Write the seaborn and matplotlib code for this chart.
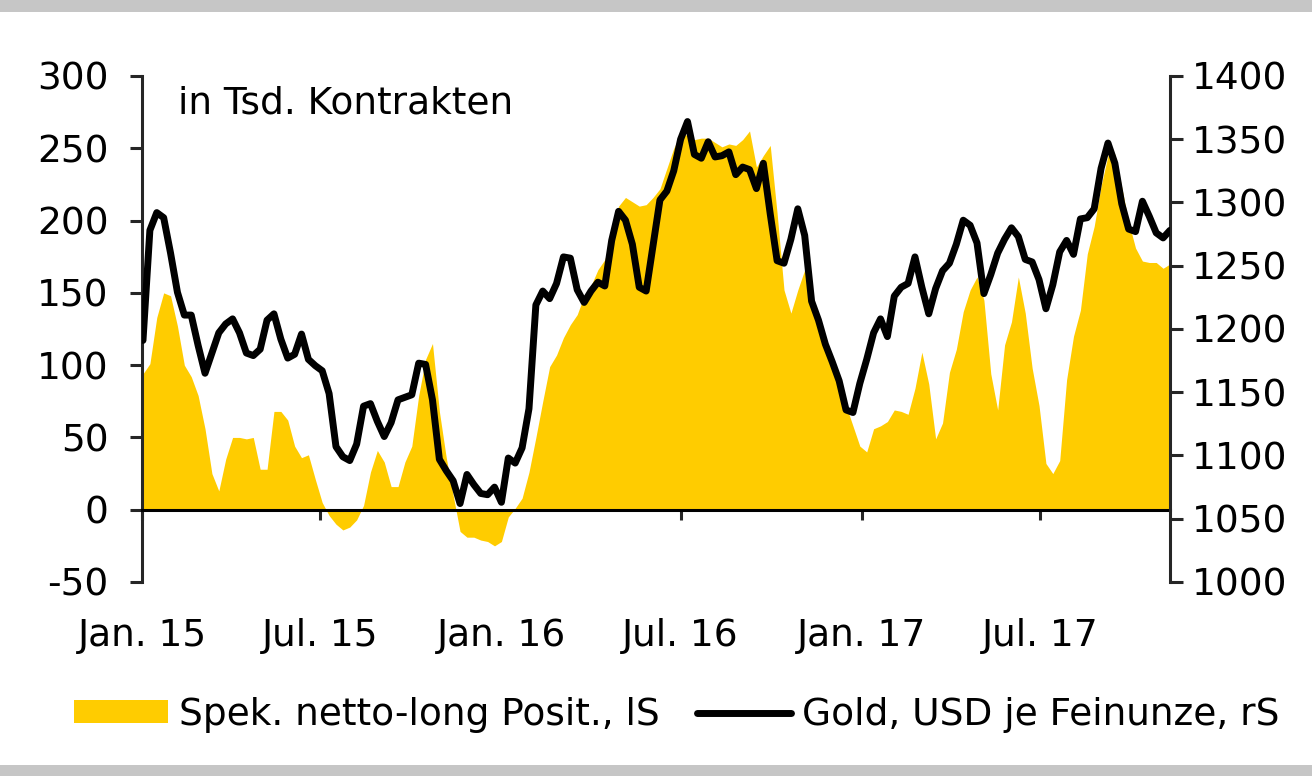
import numpy as np
import pandas as pd
import matplotlib
matplotlib.use("Agg")
import matplotlib.pyplot as plt
from matplotlib.patches import Patch, Rectangle
from matplotlib.lines import Line2D
import seaborn as sns

# ---- data (weekly) ----
start_date = "2015-01-02"
n_weeks = 150

net_long = [94, 101, 133, 150, 148, 127, 100, 92, 79, 56,
            25, 13, 35, 50, 50, 49, 50, 28, 28, 68,
            68, 62, 44, 36, 38, 21, 5, -4, -10, -14,
            -12, -7, 3, 26, 41, 33, 16, 16, 33, 44,
            79, 104, 115, 68, 36, 10, -15, -19, -19, -21,
            -22, -25, -22, -5, 1, 8, 26, 50, 75, 99,
            107, 119, 128, 135, 148, 155, 166, 173, 190, 210,
            216, 213, 210, 211, 216, 222, 236, 250, 260, 259,
            256, 257, 257, 254, 251, 253, 252, 256, 262, 237,
            245, 252, 205, 152, 136, 152, 166, 144, 130, 117,
            102, 88, 72, 58, 44, 40, 56, 58, 61, 69,
            68, 66, 84, 109, 87, 49, 60, 95, 111, 137,
            152, 161, 145, 94, 69, 114, 130, 161, 136, 98,
            72, 32, 25, 34, 90, 120, 138, 177, 196, 224,
            245, 246, 223, 199, 181, 172, 171, 171, 167, 170]

gold = [1191, 1278, 1292, 1288, 1260, 1229, 1211, 1211, 1187, 1165,
        1181, 1197, 1204, 1208, 1197, 1181, 1179, 1184, 1207, 1212,
        1192, 1177, 1180, 1196, 1176, 1171, 1167, 1149, 1107, 1099,
        1096, 1109, 1139, 1141, 1127, 1115, 1126, 1144, 1146, 1148,
        1173, 1172, 1144, 1097, 1088, 1080, 1062, 1085, 1077, 1070,
        1069, 1075, 1063, 1098, 1094, 1106, 1137, 1219, 1230, 1224,
        1236, 1257, 1256, 1231, 1221, 1230, 1237, 1234, 1270, 1293,
        1286, 1267, 1233, 1230, 1266, 1302, 1309, 1325, 1350, 1364,
        1338, 1335, 1348, 1336, 1337, 1340, 1322, 1328, 1326, 1311,
        1331, 1291, 1254, 1252, 1271, 1295, 1274, 1222, 1207, 1188,
        1174, 1159, 1136, 1134, 1157, 1176, 1197, 1208, 1194, 1226,
        1233, 1236, 1257, 1233, 1212, 1232, 1246, 1252, 1267, 1286,
        1282, 1268, 1228, 1243, 1260, 1271, 1280, 1273, 1255, 1253,
        1239, 1216, 1235, 1261, 1270, 1259, 1287, 1288, 1295, 1327,
        1347, 1331, 1299, 1279, 1277, 1301, 1289, 1276, 1272, 1278]

tick_dates = ["2015-01-01", "2015-07-01", "2016-01-01",
              "2016-07-01", "2017-01-01", "2017-07-01"]
tick_labels = ["Jan. 15", "Jul. 15", "Jan. 16", "Jul. 16", "Jan. 17", "Jul. 17"]
left_ticks = [-50, 0, 50, 100, 150, 200, 250, 300]
right_ticks = [1000, 1050, 1100, 1150, 1200, 1250, 1300, 1350, 1400]

label_area = "Spek. netto-long Posit., lS"
label_line = "Gold, USD je Feinunze, rS"
unit_text = "in Tsd. Kontrakten"

# ---- style ----
sns.set_theme(style="white")
plt.rcParams["font.family"] = ["DejaVu Sans"]
plt.rcParams["text.color"] = "black"
plt.rcParams["xtick.color"] = "black"
plt.rcParams["ytick.color"] = "black"
plt.rcParams["axes.labelcolor"] = "black"
FS = 27
YELLOW = "#FFCC00"
SPINE = "#262626"
LW = 5.0

dates = pd.date_range(start_date, periods=n_weeks, freq="7D")
df = pd.DataFrame({"date": dates, "net_long": net_long, "gold": gold})

fig = plt.figure(figsize=(13.12, 7.76), dpi=100)
ax = fig.add_axes([142 / 1312, 1 - 582 / 776, (1170 - 142) / 1312, (582 - 76) / 776])
ax.set_facecolor("none")

ax.fill_between(df["date"], 0, df["net_long"], color=YELLOW, linewidth=0, zorder=1)
ax.set_ylim(-50, 300)
ax.set_xlim(pd.Timestamp("2015-01-01"), df["date"].iloc[-1])
ax.set_yticks(left_ticks)
ax.set_yticklabels([str(v) for v in left_ticks], fontsize=FS, color="black")

ax2 = ax.twinx()
sns.lineplot(data=df, x="date", y="gold", ax=ax2, color="black",
             linewidth=LW, legend=False, zorder=3)
ax2.set_ylim(1000, 1400)
ax2.set_yticks(right_ticks)
ax2.set_yticklabels([str(v) for v in right_ticks], fontsize=FS, color="black")
ax2.set_xlim(ax.get_xlim())
ax2.set_xlabel("")
ax2.set_ylabel("")
ax.set_xlabel("")
ax.set_ylabel("")

# spines
for a in (ax, ax2):
    a.spines["top"].set_visible(False)
    a.grid(False)
ax.spines["right"].set_visible(False)
ax2.spines["left"].set_visible(False)
ax2.spines["bottom"].set_visible(False)
ax.spines["left"].set_color(SPINE)
ax.spines["left"].set_linewidth(2.2)
ax2.spines["right"].set_color(SPINE)
ax2.spines["right"].set_linewidth(2.2)
ax.spines["bottom"].set_position(("data", 0))
ax.spines["bottom"].set_color("black")
ax.spines["bottom"].set_linewidth(2.2)
ax.spines["bottom"].set_zorder(2.5)

ax.set_xticks(pd.to_datetime(tick_dates))
ax.set_xticklabels(tick_labels, fontsize=FS, color="black")
ax.tick_params(axis="x", direction="out", length=7, width=2.2, color=SPINE,
               pad=71, bottom=True)
ax.tick_params(axis="y", direction="out", length=9, width=2.2, color=SPINE,
               pad=15, left=True)
ax2.tick_params(axis="y", direction="out", length=9, width=2.2, color=SPINE,
                pad=7, right=True)
ax2.tick_params(axis="x", bottom=False, labelbottom=False)

fig.text(178 / 1312, 1 - 103 / 776, unit_text, fontsize=FS, va="center", ha="left",
         color="black")

handles = [Patch(facecolor=YELLOW, edgecolor="none", label=label_area),
           Line2D([0], [0], color="black", linewidth=LW, label=label_line)]
fig.legend(handles=handles, loc="center left", bbox_to_anchor=(74 / 1312, 1 - 715 / 776),
           ncol=2, frameon=False, fontsize=FS, handlelength=2.5, handleheight=0.55,
           handletextpad=0.3, columnspacing=1.0, borderpad=0, borderaxespad=0,
           labelcolor="black")

# grey bands at top and bottom
fig.patches.append(Rectangle((0, 1 - 12 / 776), 1, 12 / 776, transform=fig.transFigure,
                             facecolor="#c6c6c6", edgecolor="none", zorder=0))
fig.patches.append(Rectangle((0, 0), 1, 11 / 776, transform=fig.transFigure,
                             facecolor="#c6c6c6", edgecolor="none", zorder=0))

fig.savefig("out.png", dpi=100, facecolor="white")
